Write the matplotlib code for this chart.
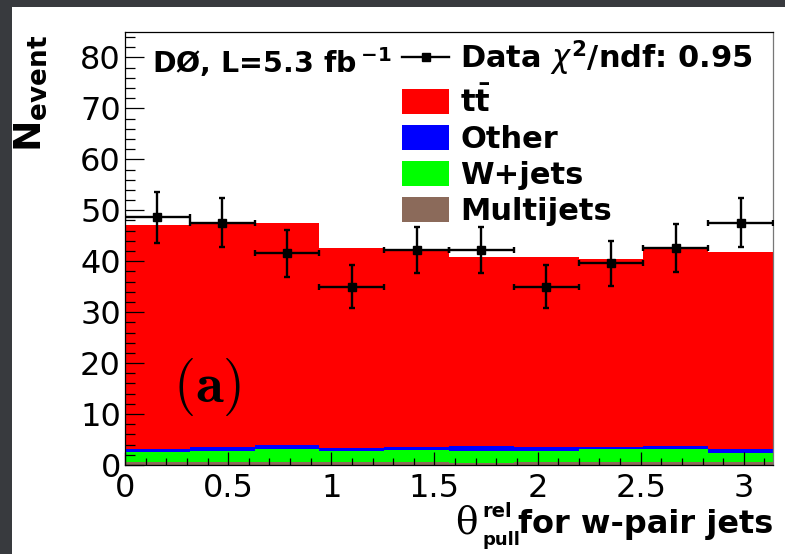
import numpy as np
import matplotlib
matplotlib.use('Agg')
import matplotlib.pyplot as plt
from matplotlib.lines import Line2D
from matplotlib.patches import Patch, Rectangle
from matplotlib.ticker import MultipleLocator

plt.rcParams['font.family'] = ['DejaVu Sans']
plt.rcParams['mathtext.fontset'] = 'dejavusans'

# 10 bins over [0, pi]
n_bins = 10
edges = np.linspace(0, np.pi, n_bins + 1)

# stacked predictions (events per bin)
multijets = [0.5, 0.5, 0.6, 0.5, 0.6, 0.4, 0.5, 0.5, 0.5, 0.5]
wjets = [2.0, 2.3, 2.55, 2.25, 2.35, 2.35, 2.3, 2.65, 2.65, 1.85]
other = [0.6, 0.7, 0.75, 0.65, 0.65, 1.05, 0.7, 0.4, 0.6, 0.8]
ttbar = [44.0, 44.0, 43.6, 39.2, 38.9, 37.1, 37.4, 36.85, 38.95, 38.65]

# data with errors
data = [48.6, 47.6, 41.6, 35.0, 42.2, 42.2, 35.0, 39.6, 42.6, 47.6]
data_err = [5.0, 4.9, 4.6, 4.2, 4.6, 4.6, 4.2, 4.4, 4.7, 4.9]

colors = {'tt': '#ff0000', 'other': '#0000ff', 'wjets': '#00ff00', 'multijets': '#8b6a5a'}

fig = plt.figure(figsize=(7.85, 5.54), dpi=100)
fig.patch.set_facecolor('#383a3e')
fig.patches.append(Rectangle((12 / 785, 0), 1, 1 - 7 / 554, transform=fig.transFigure,
                             facecolor='white', edgecolor='none', zorder=-10))

ax = fig.add_axes([125 / 785, 89 / 554, 648 / 785, 433 / 554])

# stacked histogram, bottom to top
bottom = np.zeros(n_bins)
for vals, key in [(multijets, 'multijets'), (wjets, 'wjets'), (other, 'other'), (ttbar, 'tt')]:
    top = bottom + np.array(vals)
    ax.stairs(top, edges, baseline=bottom, fill=True, color=colors[key], lw=0)
    bottom = top

centers = 0.5 * (edges[:-1] + edges[1:])
half_w = 0.5 * (edges[1] - edges[0])
ax.errorbar(centers, data, yerr=data_err, xerr=half_w, fmt='s', color='k', ms=6,
            elinewidth=1.7, capsize=2.5, capthick=1.7, zorder=5)

ax.set_xlim(0, np.pi)
ax.set_ylim(0, 85)
ax.xaxis.set_major_locator(MultipleLocator(0.5))
ax.xaxis.set_minor_locator(MultipleLocator(0.1))
ax.yaxis.set_major_locator(MultipleLocator(10))
ax.yaxis.set_minor_locator(MultipleLocator(2))
ax.xaxis.set_major_formatter(plt.FuncFormatter(lambda v, p: f'{v:g}'))
ax.tick_params(axis='y', which='major', direction='in', length=14, width=0.9, labelsize=23, pad=3)
ax.tick_params(axis='y', which='minor', direction='in', length=7, width=0.9)
ax.tick_params(axis='x', which='major', direction='in', length=9.5, width=0.9, labelsize=23, pad=6)
ax.tick_params(axis='x', which='minor', direction='in', length=5, width=0.9)
for s in ax.spines.values():
    s.set_linewidth(0.9)
ax.spines['right'].set_color('#777777')

# y title
fig.text(31 / 785, 1 - 35 / 554, r'$\mathbf{N}_{\mathbf{event}}$', rotation=90,
         ha='center', va='top', fontsize=27)

# x title, built from pieces like the original
fig.text(773 / 785, 1 - 533 / 554, 'for w-pair jets', ha='right', va='baseline',
         fontsize=23, fontweight='bold')
fig.text(466 / 785, 1 - 533 / 554, 'θ', ha='center', va='baseline',
         fontsize=27, family='DejaVu Serif')
fig.text(482 / 785, 1 - 517 / 554, 'rel', ha='left', va='baseline',
         fontsize=14, fontweight='bold')
fig.text(482 / 785, 1 - 545 / 554, 'pull', ha='left', va='baseline',
         fontsize=13, fontweight='bold')

ax.text(0.042, 0.905, r'DØ, L=5.3 fb$\,^{\mathbf{-1}}$', transform=ax.transAxes,
        fontsize=20.5, fontweight='bold', va='baseline', ha='left')
ax.text(0.40, 15.4, r'$\mathbf{(a)}$', math_fontfamily='cm', fontsize=41,
        ha='center', va='center')

handles = [Line2D([], [], color='k', marker='s', ms=6, lw=1.7),
           Patch(facecolor=colors['tt']), Patch(facecolor=colors['other']),
           Patch(facecolor=colors['wjets']), Patch(facecolor=colors['multijets'])]
labels = [r'Data $\chi^{\mathbf{2}}$/ndf: 0.95', r'$\mathbf{t\bar{t}}$', 'Other', 'W+jets', 'Multijets']
leg = ax.legend(handles, labels, loc='upper left', bbox_to_anchor=(0.4275, 0.985),
                frameon=False, borderpad=0, borderaxespad=0, handlelength=1.545,
                handleheight=0.89, handletextpad=0.36, labelspacing=0.23,
                prop={'size': 22, 'weight': 'bold'})

fig.savefig('out.png', dpi=100, facecolor=fig.get_facecolor())
